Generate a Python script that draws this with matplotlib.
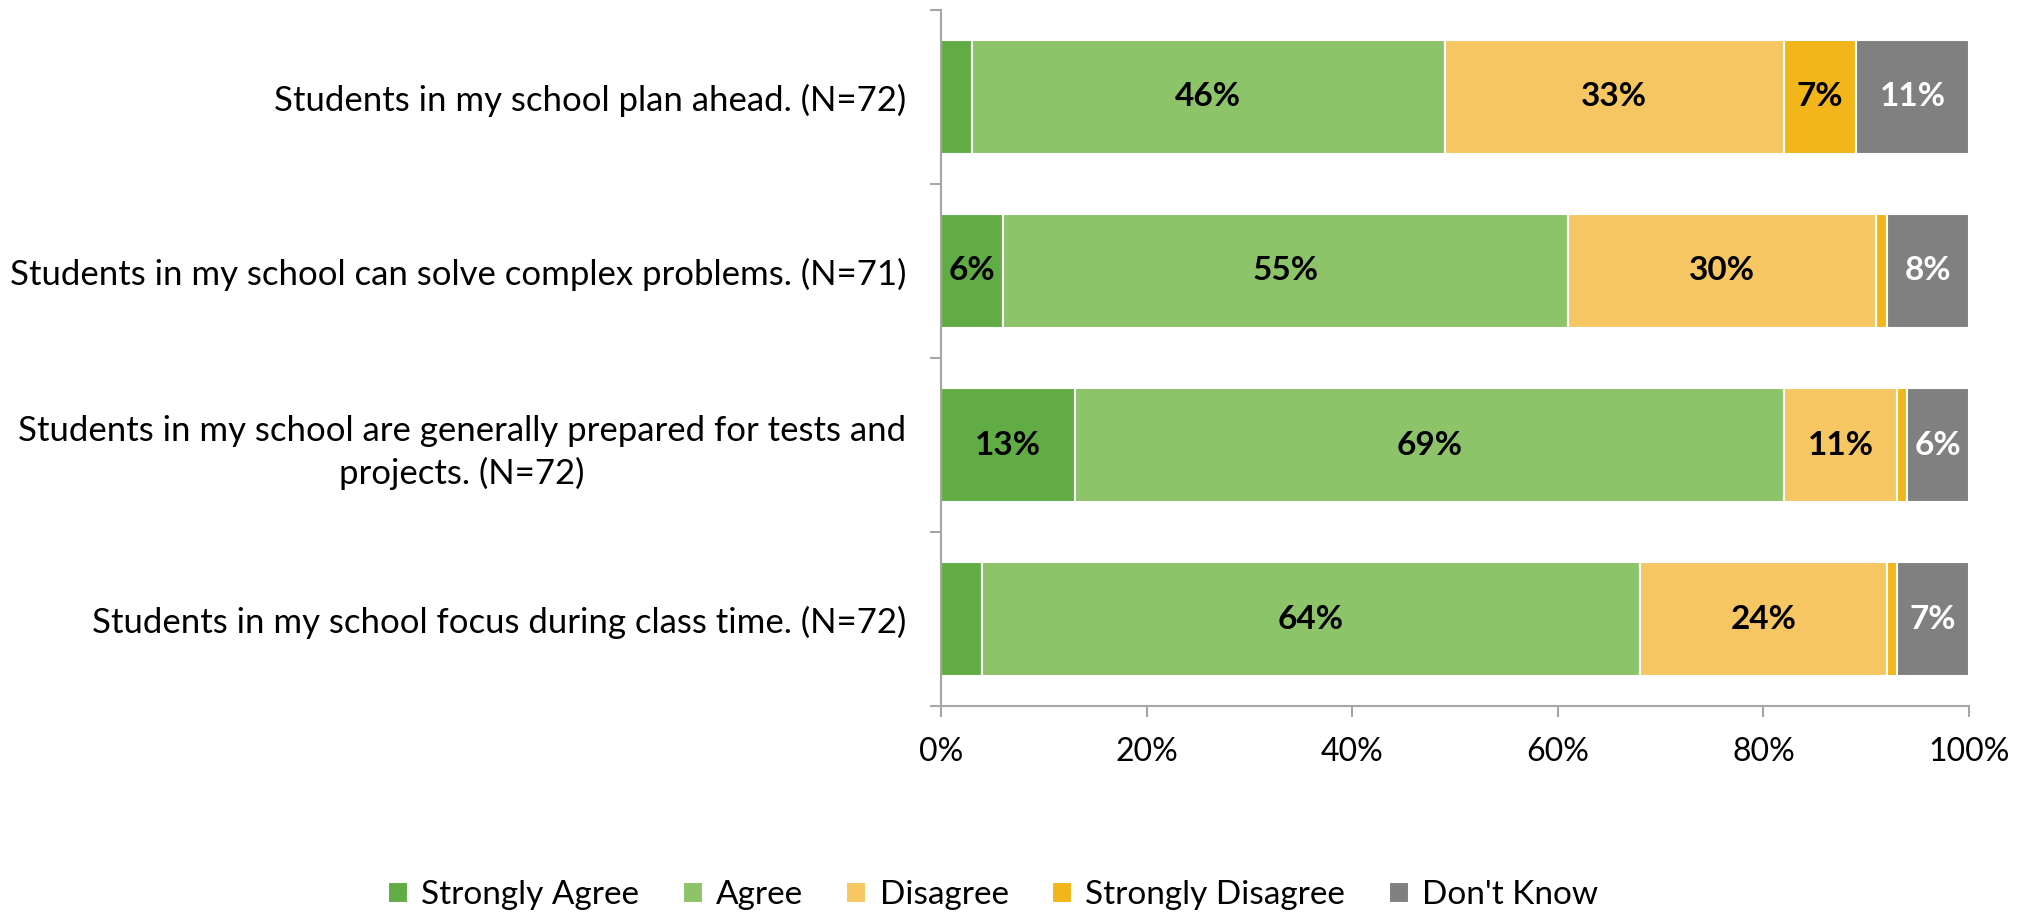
import matplotlib
matplotlib.use("Agg")
import matplotlib.pyplot as plt
import numpy as np
from matplotlib.ticker import FuncFormatter

plt.rcParams['font.family'] = ['Lato', 'DejaVu Sans']

categories = [
    "Students in my school plan ahead. (N=72)",
    "Students in my school can solve complex problems. (N=71)",
    "Students in my school are generally prepared for tests and\nprojects. (N=72)",
    "Students in my school focus during class time. (N=72)",
]
series_names = ["Strongly Agree", "Agree", "Disagree", "Strongly Disagree", "Don't Know"]
strongly_agree = [3, 6, 13, 4]
agree = [46, 55, 69, 64]
disagree = [33, 30, 11, 24]
strongly_disagree = [7, 1, 1, 1]
dont_know = [11, 8, 6, 7]
colors = ["#62AC46", "#8DC469", "#F6C663", "#F2B61B", "#808080"]
label_colors = ["black", "black", "black", "black", "white"]
xticks = [0, 20, 40, 60, 80, 100]

fig = plt.figure(figsize=(20.30, 9.13), dpi=100)
ax = fig.add_axes([941/2030, 1 - 706/913, (1969-941)/2030, (706-10)/913])

data = [strongly_agree, agree, disagree, strongly_disagree, dont_know]
y = np.arange(len(categories))
left = np.zeros(len(categories))
for name, vals, col, lc in zip(series_names, data, colors, label_colors):
    vals = np.array(vals, dtype=float)
    bars = ax.barh(y, vals, left=left, height=0.66, color=col, edgecolor="white",
                   linewidth=1.5, label=name)
    for b, v, l in zip(bars, vals, left):
        if v >= 5:
            ax.text(l + v / 2, b.get_y() + b.get_height() / 2, f"{int(v)}%",
                    ha="center", va="center", fontsize=24, fontweight="bold", color=lc)
    left += vals

ax.set_xlim(0, 100)
ax.set_ylim(len(categories) - 0.5, -0.5)
ax.set_xticks(xticks)
ax.xaxis.set_major_formatter(FuncFormatter(lambda v, p: f"{int(v)}%"))
ax.set_yticks(y)
ax.set_yticklabels(categories, multialignment="center", linespacing=1.35)
ax.set_yticks(np.arange(len(categories) + 1) - 0.5, minor=True)
ax.tick_params(axis="y", which="major", length=0, pad=25, labelsize=25)
ax.tick_params(axis="y", which="minor", length=8, color="#A6A6A6", width=1.5)
ax.tick_params(axis="x", length=8, color="#A6A6A6", width=1.5, labelsize=23, pad=14)

for s in ["top", "right"]:
    ax.spines[s].set_visible(False)
for s in ["left", "bottom"]:
    ax.spines[s].set_color("#A6A6A6")
    ax.spines[s].set_linewidth(1.5)

handles, labels = ax.get_legend_handles_labels()
fig.legend(handles, labels, loc="center", bbox_to_anchor=(993/2030, 1 - 895/913),
           ncol=5, frameon=False, fontsize=24, handlelength=0.6, handleheight=0.6,
           columnspacing=1.3, handletextpad=0.4)

fig.savefig("out.png", dpi=100)
